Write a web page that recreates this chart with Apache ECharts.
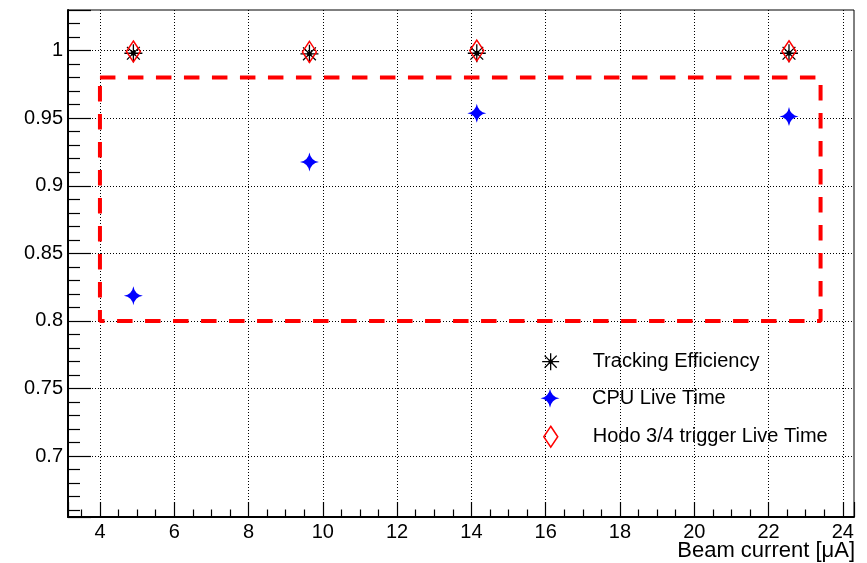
<!DOCTYPE html>
<html>
<head>
<meta charset="utf-8">
<script src="https://cdn.jsdelivr.net/npm/echarts@6/dist/echarts.min.js"></script>
<style>
html,body{margin:0;padding:0;background:#fff;}
#chart{width:867px;height:563px;}
</style>
</head>
<body>
<div id="chart"></div>
<script>
// ---- data ----
var beamCurrent = [4.9, 9.64, 14.145, 22.55];
var trackingEff = [0.998, 0.9976, 0.998, 0.998];
var cpuLive = [0.8187, 0.9175, 0.9537, 0.9512];
var hodoLive = [0.9993, 0.999, 1.0, 0.9995];
var boxX = [4, 23.4, 23.4, 4, 4];
var boxY = [0.98, 0.98, 0.8, 0.8, 0.98];
var seriesNames = ['Tracking Efficiency', 'CPU Live Time', 'Hodo 3/4 trigger Live Time'];
var xTitle = 'Beam current [\u03bcA]';

function pairs(xs, ys) { return xs.map(function (x, i) { return [x, ys[i]]; }); }

var FONT = 'Liberation Sans, Arial, Helvetica, sans-serif';
var asteriskPath = 'path://M0,-9L0,9M-9,0L9,0M-6.4,-6.4L6.4,6.4M-6.4,6.4L6.4,-6.4M-1.6,-1.6L1.6,-1.6L1.6,1.6L-1.6,1.6Z';
var starPath = 'path://M0,-10Q1.4,-1.4 10,0Q1.4,1.4 0,10Q-1.4,1.4 -10,0Q-1.4,-1.4 0,-10Z';

var chart = echarts.init(document.getElementById('chart'), null, {renderer: 'canvas'});
var axisCommon = {
  type: 'value',
  axisLine: {show: true, onZero: false, lineStyle: {color: '#000', width: 2}},
  splitLine: {show: true, showMinLine: false, showMaxLine: false, lineStyle: {color: '#000', width: 1, type: [1, 2]}},
  axisLabel: {color: '#000', fontSize: 20, fontFamily: FONT, showMinLabel: false, showMaxLabel: false}
};
var option = {
  backgroundColor: '#fff',
  animation: false,
  grid: {left: 68, right: 13, top: 10, bottom: 46, show: true, borderColor: '#000', borderWidth: 1,
         backgroundColor: 'transparent', containLabel: false, outerBoundsMode: 'none'},
  xAxis: echarts.util.merge({
    min: 3.14, max: 24.3, splitNumber: 10,
    axisTick: {show: true, inside: true, length: 15, lineStyle: {color: '#000', width: 1.2}},
    minorTick: {show: true, splitNumber: 4, length: 7.5, lineStyle: {color: '#000', width: 1.2}},
    axisLabel: {margin: 5}
  }, axisCommon),
  yAxis: echarts.util.merge({
    min: 0.655, max: 1.03, splitNumber: 7,
    axisTick: {show: true, inside: true, length: 23, lineStyle: {color: '#000', width: 1.2}},
    minorTick: {show: true, splitNumber: 5, length: 12, lineStyle: {color: '#000', width: 1.2}},
    axisLabel: {margin: 5}
  }, axisCommon),
  graphic: [
    {type: 'text', right: 12, top: 540, silent: true,
     style: {text: xTitle, fill: '#000', font: '22px ' + FONT}}
  ],
  legend: [
    {data: [seriesNames[0]], left: 541.5, top: 351.7, padding: 0, itemWidth: 17, itemHeight: 17, selectedMode: false,
     itemStyle: {color: '#000', borderColor: '#000', borderWidth: 1.3},
     textStyle: {color: '#000', fontSize: 20, fontFamily: FONT, lineHeight: 20, padding: [0, 0, 0, 28.5]}},
    {data: [seriesNames[1]], left: 540.5, top: 388.3, padding: 0, itemWidth: 19, itemHeight: 19, selectedMode: false,
     itemStyle: {color: '#0000ff', borderColor: '#0000ff', borderWidth: 0},
     textStyle: {color: '#000', fontSize: 20, fontFamily: FONT, lineHeight: 20, padding: [0, 0, 0, 27.5]}},
    {data: [seriesNames[2]], left: 543, top: 425.5, padding: 0, itemWidth: 14, itemHeight: 21, selectedMode: false,
     itemStyle: {color: 'rgba(0,0,0,0)', borderColor: '#ff0000', borderWidth: 1.5},
     textStyle: {color: '#000', fontSize: 20, fontFamily: FONT, lineHeight: 20, padding: [0, 0, 0, 30]}}
  ],
  series: [
    {type: 'line', name: 'box', data: pairs(boxX, boxY), symbol: 'none', silent: true, z: 2,
     lineStyle: {color: '#ff0000', width: 4, type: [15.5, 12.5], cap: 'butt'}},
    {type: 'scatter', name: seriesNames[0], data: pairs(beamCurrent, trackingEff), symbol: asteriskPath, symbolSize: 18, z: 3,
     itemStyle: {color: '#000', borderColor: '#000', borderWidth: 1.3, opacity: 1}},
    {type: 'scatter', name: seriesNames[1], data: pairs(beamCurrent, cpuLive), symbol: starPath, symbolSize: 19, z: 3,
     itemStyle: {color: '#0000ff', borderWidth: 0, opacity: 1}},
    {type: 'scatter', name: seriesNames[2], data: pairs(beamCurrent, hodoLive), symbol: 'diamond', symbolSize: [14, 21], z: 4,
     itemStyle: {color: 'rgba(0,0,0,0)', borderColor: '#ff0000', borderWidth: 1.5, opacity: 1}}
  ]
};
chart.setOption(option);
</script>
</body>
</html>
